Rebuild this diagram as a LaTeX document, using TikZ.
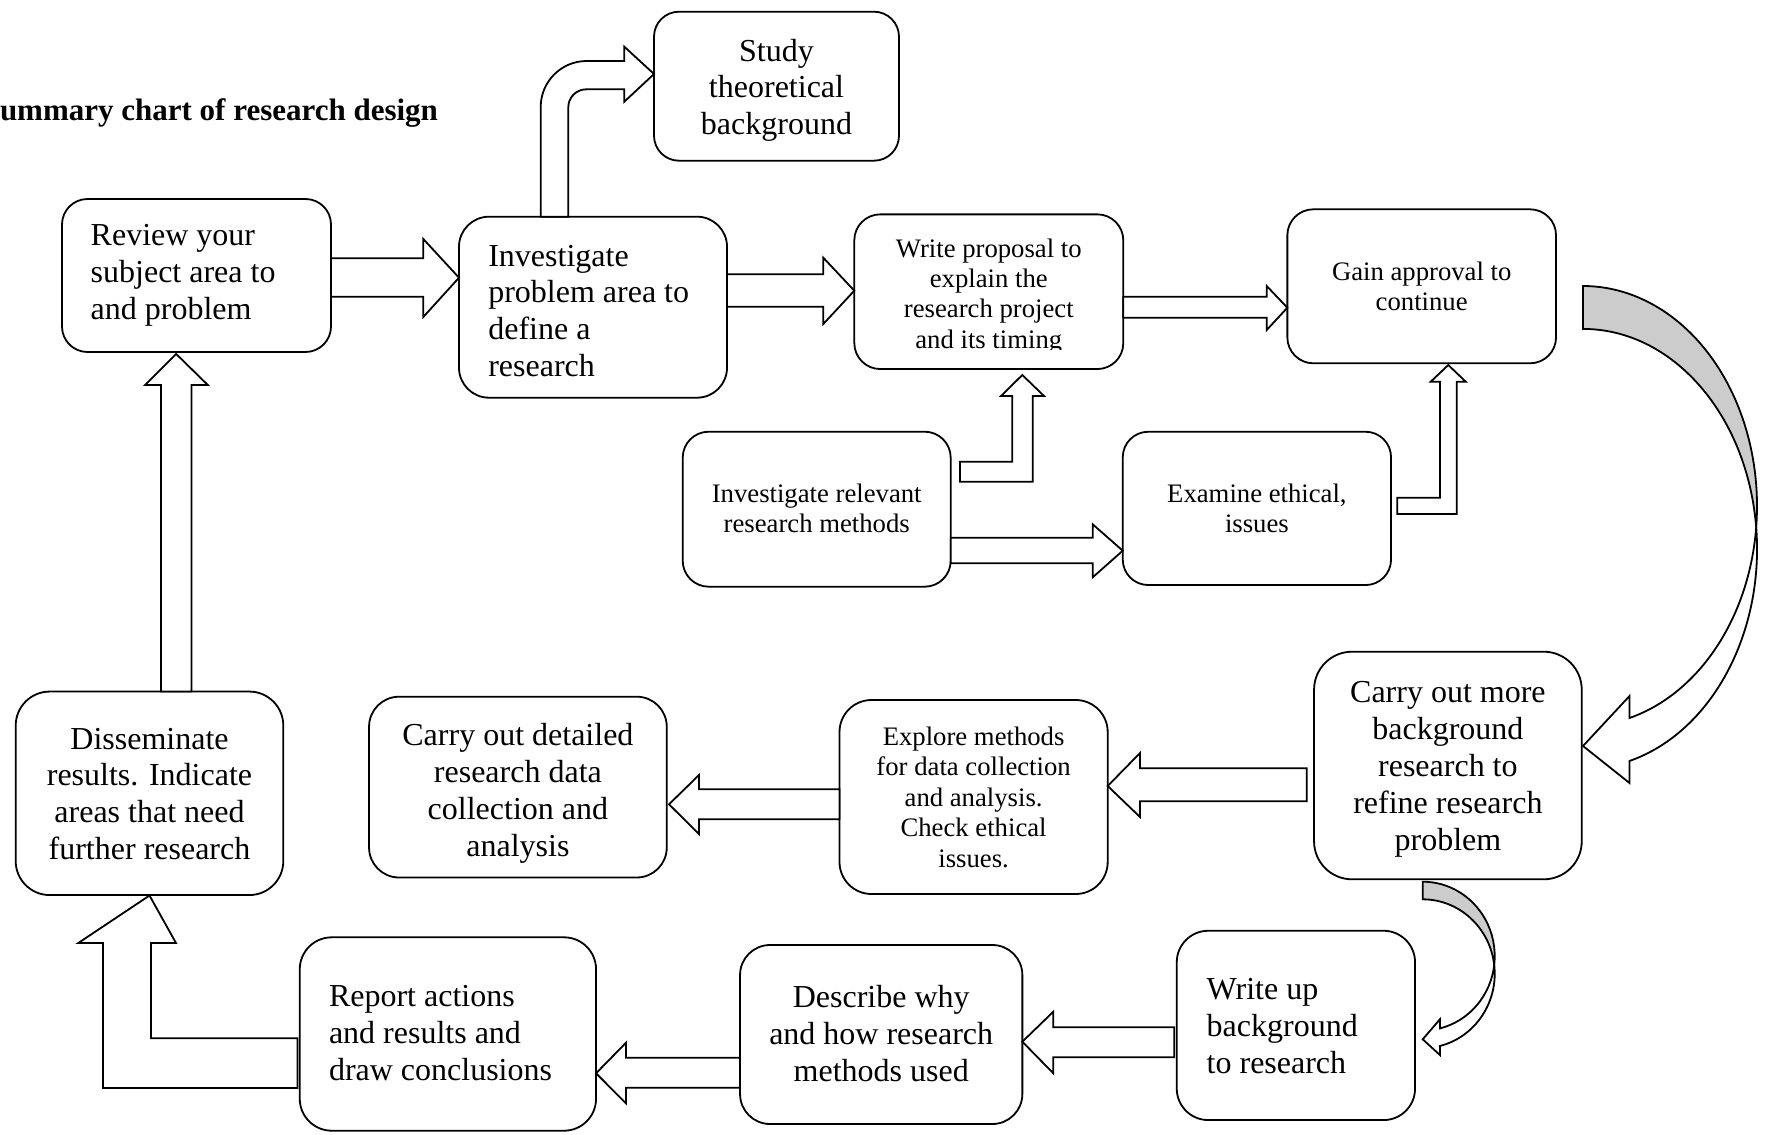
\documentclass[tikz,border=0pt]{standalone}
\usepackage{fontspec}
\setmainfont{Liberation Serif}
\newcommand\mytxtL[2]{{\fontsize{32}{36.9}\selectfont\begin{tabular}[t]{@{}#1@{}}#2\end{tabular}}}
\newcommand\mytxtS[2]{{\fontsize{26.7}{30.4}\selectfont\begin{tabular}[t]{@{}#1@{}}#2\end{tabular}}}
\tikzset{
  box/.style={draw, line width=1.8pt, rounded corners=#1, inner sep=0pt, outer sep=0pt, fill=white},
  txt/.style={inner sep=0pt, outer sep=0pt, anchor=base},
  txtl/.style={inner sep=0pt, outer sep=0pt, anchor=base west},
  barrow/.style={draw, line width=1.8pt, fill=white, line join=miter},
  garrow/.style={draw, line width=1.8pt, fill=black!20, line join=miter},
}
\begin{document}
\begin{tikzpicture}[x=1pt,y=-1pt]
\useasboundingbox (0,0) rectangle (1775,1135);
\fill[white] (0,0) rectangle (1775,1135);

% title
\node[txtl, font=\bfseries\fontsize{31}{36}\selectfont] (title) at (0,120.5) {ummary chart of research design};

% boxes
\node[box=25.5pt, minimum width=269pt, minimum height=153pt] (review) at (196.5,275.5) {};
\node[box=30pt, minimum width=268pt, minimum height=181pt] (invest) at (593,307.2) {};
\node[box=25pt, minimum width=245pt, minimum height=149pt] (study) at (776.5,86.2) {};
\node[box=26pt, minimum width=269pt, minimum height=154.7pt] (write) at (988.8,291.7) {};
\node[box=26pt, minimum width=268.7pt, minimum height=154pt] (gain) at (1421.7,286.3) {};
\node[box=26pt, minimum width=268pt, minimum height=155pt] (invrel) at (816.7,509.2) {};
\node[box=25.5pt, minimum width=268.3pt, minimum height=153.3pt] (examine) at (1256.9,508.4) {};
\node[box=38pt, minimum width=267.7pt, minimum height=227.6pt] (carrymore) at (1447.9,765.5) {};
\node[box=32pt, minimum width=268.2pt, minimum height=194pt] (explore) at (973.6,797) {};
\node[box=30pt, minimum width=297.7pt, minimum height=180.8pt] (carrydet) at (517.9,787.1) {};
\node[box=34pt, minimum width=267.6pt, minimum height=203.5pt] (dissem) at (149.5,793.3) {};
\node[box=31.5pt, minimum width=238.3pt, minimum height=189.3pt] (writeup) at (1295.9,1025.4) {};
\node[box=30pt, minimum width=282.3pt, minimum height=179pt] (describe) at (881.2,1034.5) {};
\node[box=32pt, minimum width=296.3pt, minimum height=193.4pt] (report) at (447.9,1034) {};

% texts
\node[txtl] (reviewT) at (90.7,245.5) {\mytxtL{l}{Review your\\subject area to\\and problem}};
\node[txtl] (investT) at (488.3,266) {\mytxtL{l}{Investigate\\problem area to\\define a\\research}};
\node[txt] (studyT) at (776.5,61) {\mytxtL{c}{Study\\theoretical\\background}};
\begin{scope}
  \clip (850,200) rectangle (1130,349);
  \node[txt] (writeT) at (988.8,257) {\mytxtS{c}{Write proposal to\\explain the\\research project\\and its timing}};
\end{scope}
\node[txt] (gainT) at (1421.7,280.5) {\mytxtS{c}{Gain approval to\\continue}};
\node[txt] (invrelT) at (816.7,502) {\mytxtS{c}{Investigate relevant\\research methods}};
\node[txt] (examineT) at (1256.9,502) {\mytxtS{c}{Examine ethical,\\issues}};
\node[txt] (carrymoreT) at (1447.9,702.5) {\mytxtL{c}{Carry out more\\background\\research to\\refine research\\problem}};
\node[txt] (exploreT) at (973.6,745.5) {\mytxtS{c}{Explore methods\\for data collection\\and analysis.\\Check ethical\\issues.}};
\node[txt] (carrydetT) at (517.9,745.5) {\mytxtL{c}{Carry out detailed\\research data\\collection and\\analysis}};
\node[txt] (dissemT) at (149.5,749) {\mytxtL{c}{Disseminate\\results. Indicate\\areas that need\\further research}};
\node[txtl] (writeupT) at (1206.7,999.5) {\mytxtL{l}{Write up\\background\\to research}};
\node[txt] (describeT) at (881.2,1007.8) {\mytxtL{c}{Describe why\\and how research\\methods used}};
\node[txtl] (reportT) at (329,1006.5) {\mytxtL{l}{Report actions\\and results and\\draw conclusions}};

% block arrows
% review -> invest
\draw[barrow] (review.east |- 0,258.3) -- (423.3,258.3) -- (423.3,239) -- (invest.west |- 0,277.7) -- (423.3,317) -- (423.3,296.7) -- (review.east |- 0,296.7) -- cycle;
% invest -> write
\draw[barrow] (invest.east |- 0,274.3) -- (823.3,274.3) -- (823.3,257.7) -- (write.west |- 0,290.7) -- (823.3,324) -- (823.3,306.7) -- (invest.east |- 0,306.7) -- cycle;
% write -> gain
\draw[barrow] (write.east |- 0,296.7) -- (1266.7,296.7) -- (1266.7,286) -- (gain.west |- 0,307.7) -- (1266.7,330) -- (1266.7,317.7) -- (write.east |- 0,317.7) -- cycle;
% invest -> study (bent)
\draw[barrow] (540.7,0 |- invest.north) -- (540.7,107) arc[start angle=180, end angle=270, radius=46] -- (624.3,61) -- (624.3,46.7) -- (study.west |- 0,74) -- (624.3,101.7) -- (624.3,89.3) -- (586.3,89.3) arc[start angle=270, end angle=180, radius=18] -- (568.3,0 |- invest.north) -- cycle;
% invrel -> write (L)
\draw[barrow] (960,461.7) -- (1012.3,461.7) -- (1012.3,396) -- (1001,396) -- (1022.3,375) -- (1044,396) -- (1032.7,396) -- (1032.7,481.7) -- (960,481.7) -- cycle;
% invrel -> examine
\draw[barrow] (invrel.east |- 0,537.7) -- (1092.7,537.7) -- (1092.7,524.3) -- (examine.west |- 0,550.7) -- (1092.7,577.3) -- (1092.7,563.3) -- (invrel.east |- 0,563.3) -- cycle;
% examine -> gain (L)
\draw[barrow] (1397.3,497.7) -- (1440,497.7) -- (1440,381.7) -- (1430.7,381.7) -- (1448.3,365) -- (1465.7,381.7) -- (1456.7,381.7) -- (1456.7,514) -- (1397.3,514) -- cycle;
% gain -> carrymore (big curved)
\coordinate (bigtail) at (1583,286);
\draw[garrow] (bigtail) arc[start angle=-90, end angle=5.6, x radius=174, y radius=220] arc[start angle=-5.6, end angle=-90, x radius=174, y radius=220] -- cycle;
\draw[barrow] (1756.2,527.5) arc[start angle=-5.6, end angle=74.5, x radius=174, y radius=220] -- (1629.5,783) -- (1583,746) -- (1629.5,696) -- (1629.5,718) arc[start angle=74.5, end angle=5.6, x radius=174, y radius=220] -- cycle;
% carrymore -> explore
\draw[barrow] (1306.7,768.3) -- (1140,768.3) -- (1140,753) -- (explore.east |- 0,786) -- (1140,817) -- (1140,801.3) -- (1306.7,801.3) -- cycle;
% explore -> carrydet
\draw[barrow] (explore.west |- 0,789.3) -- (699,789.3) -- (699,775) -- (669,804.3) -- (699,834) -- (699,819.3) -- (explore.west |- 0,819.3) -- cycle;
% carrymore -> writeup (small curved)
\coordinate (smalltail) at (1422.7,881.7);
\draw[garrow] (smalltail) arc[start angle=-90, end angle=6.8, x radius=72, y radius=74.4] arc[start angle=-6.8, end angle=-90, x radius=72, y radius=74.4] -- cycle;
\draw[barrow] (1494.2,964.9) arc[start angle=-6.8, end angle=76.2, x radius=72, y radius=74.4] -- (1439.9,1055) -- (1422.7,1039.3) -- (1439.9,1019.3) -- (1439.9,1028.4) arc[start angle=76.2, end angle=6.8, x radius=72, y radius=74.4] -- cycle;
% writeup -> describe
\draw[barrow] (1174.3,1027.3) -- (1053.3,1027.3) -- (1053.3,1011.7) -- (describe.east |- 0,1041.7) -- (1053.3,1073.3) -- (1053.3,1057.3) -- (1174.3,1057.3) -- cycle;
% describe -> report
\draw[barrow] (describe.west |- 0,1057.7) -- (626,1057.7) -- (626,1042.7) -- (report.east |- 0,1073.3) -- (626,1103.3) -- (626,1087.7) -- (describe.west |- 0,1087.7) -- cycle;
% report -> dissem (L)
\draw[barrow] (297.4,1038.3) -- (151,1038.3) -- (151,943) -- (176,943) -- (dissem.south |- 0,895.5) -- (78.3,943) -- (103,943) -- (103,1088) -- (297.4,1088) -- cycle;
% dissem -> review
\draw[barrow] (161,0 |- dissem.north) -- (161,385) -- (145.2,385) -- (176.2,354) -- (207.8,385) -- (191.5,385) -- (191.5,0 |- dissem.north) -- cycle;
\end{tikzpicture}
\end{document}
